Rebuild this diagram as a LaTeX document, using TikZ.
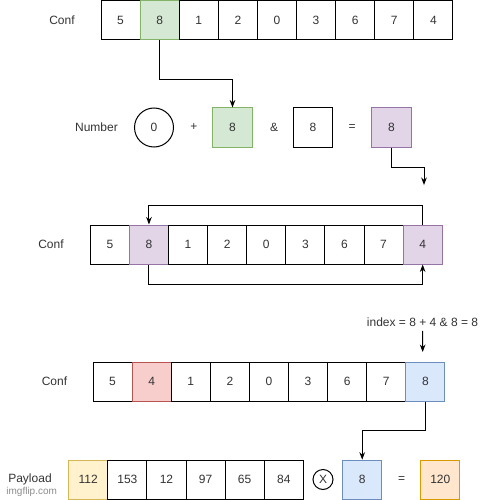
\documentclass[tikz,border=0pt]{standalone}
\usepackage{fontspec}
\setmainfont{Liberation Sans}
\usetikzlibrary{arrows.meta,positioning}
\definecolor{greenfill}{HTML}{D5E8D4}\definecolor{greenline}{HTML}{82B366}
\definecolor{purplefill}{HTML}{E1D5E7}\definecolor{purpleline}{HTML}{9673A6}
\definecolor{redfill}{HTML}{F8CECC}\definecolor{redline}{HTML}{B85450}
\definecolor{bluefill}{HTML}{DAE8FC}\definecolor{blueline}{HTML}{6C8EBF}
\definecolor{yellowfill}{HTML}{FFF2CC}\definecolor{yellowline}{HTML}{D6B656}
\definecolor{orangefill}{HTML}{FFE6CC}\definecolor{orangeline}{HTML}{D79B00}
\begin{document}
\begin{tikzpicture}[x=1pt,y=-1pt,>=Stealth,line width=1pt,
    every node/.style={font=\fontsize{12}{14}\selectfont,text=black!80},
    cell/.style={draw,minimum width=39.1pt,minimum height=39pt,inner sep=0pt},
    whitecell/.style={fill=white},
    greencell/.style={fill=greenfill,draw=greenline},
    purplecell/.style={fill=purplefill,draw=purpleline},
    redcell/.style={fill=redfill,draw=redline},
    bluecell/.style={fill=bluefill,draw=blueline},
    yellowcell/.style={fill=yellowfill,draw=yellowline},
    orangecell/.style={fill=orangefill,draw=orangeline}]
    \useasboundingbox (0,0) rectangle (487,500);
    % first Conf row
    \node (conf1) at (62,20) {Conf};
    \foreach \v/\s [count=\i] in {5/whitecell,8/greencell,1/whitecell,2/whitecell,
        0/whitecell,3/whitecell,6/whitecell,7/whitecell,4/whitecell}
      \node[cell,\s] (a\i) at ({101+39.1*(\i-0.5)},20) {\v};
    % Number row
    \node (num) at (96.5,127.5) {Number};
    \node[circle,draw,minimum size=39pt,inner sep=0pt] (zero) at (154,127.5) {0};
    \node (plus) at (194,127.5) {+};
    \node[cell,greencell] (sel) at (232.5,127.5) {8};
    \node (amp) at (274,127.5) {\&};
    \node[cell] (mask) at (313,127.5) {8};
    \node (eq1) at (352,127.5) {=};
    \node[cell,purplecell] (res) at (391.5,127.5) {8};
    \coordinate (resend) at (424,185);
    \draw[->] (a2.south) -- ++(0,39.5) -| (sel.north);
    \draw[->] (res.south) -- ++(0,19.5) -| (resend);
    % second Conf row (swap)
    \node (conf2) at (51,244.5) {Conf};
    \foreach \v/\s [count=\i] in {5/whitecell,8/purplecell,1/whitecell,2/whitecell,
        0/whitecell,3/whitecell,6/whitecell,7/whitecell,4/purplecell}
      \node[cell,\s] (b\i) at ({90.3+39.1*(\i-0.5)},244.5) {\v};
    \draw[->] (b9.north) -- ++(0,-19.3) -| (b2.north);
    \draw[->] (b2.south) -- ++(0,20) -| (b9.south);
    % third Conf row
    \node (idx) at (422.5,322.7) {index = 8 + 4 \& 8 = 8};
    \coordinate (idxend) at (422.7,352);
    \draw[->] (idx.south) -- (idxend);
    \node (conf3) at (54.5,381.5) {Conf};
    \foreach \v/\s [count=\i] in {5/whitecell,4/redcell,1/whitecell,2/whitecell,
        0/whitecell,3/whitecell,6/whitecell,7/whitecell,8/bluecell}
      \node[cell,\s] (c\i) at ({93+39.1*(\i-0.5)},381.5) {\v};
    % Payload row
    \node (pay) at (30,479) {Payload};
    \node[font=\fontsize{10}{12}\selectfont,text=black!45] (mark) at (31.7,491.5) {imgflip.com};
    \foreach \v/\s [count=\i] in {112/yellowcell,153/whitecell,12/whitecell,
        97/whitecell,65/whitecell,84/whitecell}
      \node[cell,\s] (d\i) at ({68.7+39.1*(\i-0.5)},479.7) {\v};
    \node[circle,draw,minimum size=20pt,inner sep=0pt] (times) at (323,479.5) {X};
    \node[cell,bluecell] (key) at (362.2,479.7) {8};
    \node (eq2) at (401.7,479.5) {=};
    \node[cell,orangecell] (out) at (440.3,479.7) {120};
    \draw[->] (c9.south) -- ++(0,29.4) -| (key.north);
\end{tikzpicture}
\end{document}
